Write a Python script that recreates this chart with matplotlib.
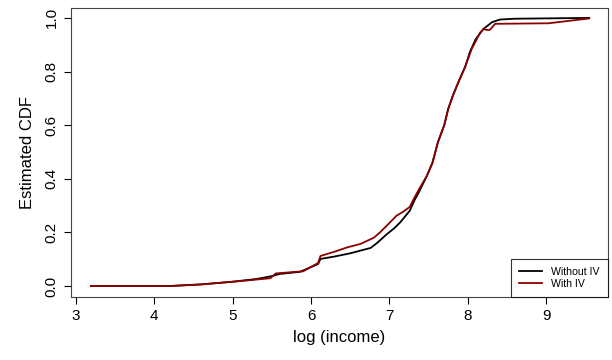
import matplotlib
matplotlib.use("Agg")
import matplotlib.pyplot as plt

# ECDF of log income, estimated without / with the IV adjustment
x_without = [3.19, 4.20, 4.60, 5.00, 5.30, 5.50, 5.60, 5.86, 6.09, 6.12, 6.30, 6.50, 6.63,
             6.76, 6.84, 6.97, 7.06, 7.14, 7.26, 7.32, 7.38, 7.48, 7.55, 7.62, 7.70, 7.75,
             7.81, 7.88, 7.97, 8.03, 8.10, 8.20, 8.31, 8.41, 8.60, 9.55]
cdf_without = [0.000, 0.000, 0.006, 0.016, 0.026, 0.037, 0.045, 0.053, 0.082, 0.101, 0.110,
               0.122, 0.132, 0.142, 0.160, 0.194, 0.215, 0.238, 0.281, 0.320, 0.352, 0.412,
               0.460, 0.537, 0.600, 0.660, 0.710, 0.760, 0.820, 0.875, 0.920, 0.959, 0.984,
               0.994, 0.997, 1.000]

x_with = [3.19, 4.20, 4.60, 5.00, 5.30, 5.48, 5.55, 5.90, 6.09, 6.12, 6.30, 6.46, 6.63,
          6.80, 6.88, 7.00, 7.09, 7.18, 7.26, 7.32, 7.38, 7.48, 7.55, 7.62, 7.70, 7.75,
          7.81, 7.88, 7.97, 8.05, 8.16, 8.20, 8.25, 8.28, 8.35, 9.03, 9.55]
cdf_with = [0.000, 0.000, 0.006, 0.016, 0.024, 0.029, 0.047, 0.055, 0.086, 0.112, 0.128,
            0.144, 0.157, 0.180, 0.200, 0.235, 0.262, 0.278, 0.295, 0.330, 0.362, 0.412,
            0.460, 0.537, 0.600, 0.660, 0.710, 0.760, 0.820, 0.884, 0.946, 0.958, 0.955,
            0.955, 0.978, 0.980, 0.998]

labels = ["Without IV", "With IV"]
colors = ["black", "#8B0000"]

plt.rcParams["font.family"] = ["Liberation Sans", "DejaVu Sans"]

fig = plt.figure(figsize=(6.12, 3.60), dpi=100)
ax = fig.add_axes([71 / 612, 1 - 297 / 360, 537 / 612, 289 / 360])

ax.plot(x_without, cdf_without, color=colors[0], lw=1.3, label=labels[0])
ax.plot(x_with, cdf_with, color=colors[1], lw=1.3, label=labels[1])

ax.set_xlim(2.936, 9.79)
ax.set_ylim(-0.041, 1.037)
ax.set_xticks(range(3, 10))
ax.set_yticks([0.0, 0.2, 0.4, 0.6, 0.8, 1.0])
ax.set_yticklabels(["0.0", "0.2", "0.4", "0.6", "0.8", "1.0"], rotation=90, va="center")
ax.tick_params(direction="out", length=5, width=0.8, labelsize=11, pad=4)

for s in ax.spines.values():
    s.set_color("#444444")
    s.set_linewidth(0.8)

ax.set_xlabel("log (income)", fontsize=12, labelpad=5)
ax.set_ylabel("Estimated CDF", fontsize=12, labelpad=7)

leg = ax.legend(loc="lower right", fontsize=7.6, frameon=True, fancybox=False,
                edgecolor="black", borderaxespad=0, handlelength=2.1,
                handletextpad=0.9, borderpad=0.8, labelspacing=0.15)
leg.get_frame().set_linewidth(0.8)

fig.savefig("out.png", dpi=100)
